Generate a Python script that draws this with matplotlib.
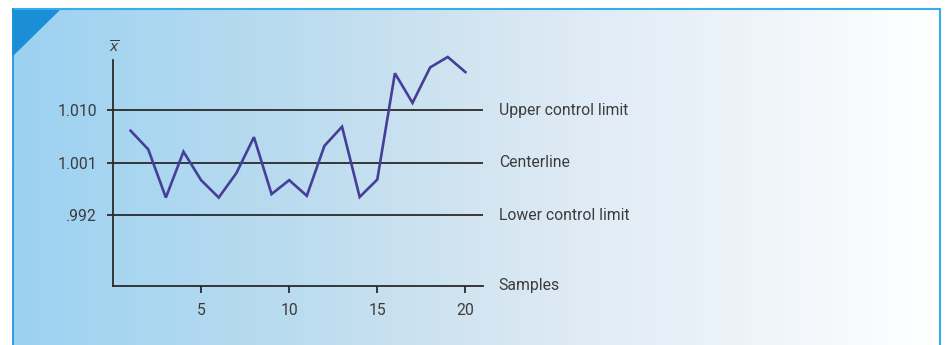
import numpy as np
import matplotlib
matplotlib.use("Agg")
import matplotlib.pyplot as plt
from matplotlib.colors import LinearSegmentedColormap
from matplotlib.patches import Polygon

# Datos del gráfico de control
samples = list(range(1, 21))
xbar = [1.0065, 1.0033, 0.9950, 1.0029, 0.9980, 0.9950, 0.9992, 1.0054, 0.9956, 0.9980,
        0.9953, 1.0039, 1.0072, 0.9951, 0.9981, 1.0164, 1.0113, 1.0174, 1.0192, 1.0166]
limit_values = [1.010, 1.001, 0.992]
limit_ticks = ["1.010", "1.001", ".992"]
limit_names = ["Upper control limit", "Centerline", "Lower control limit"]
x_ticks = [5, 10, 15, 20]

W, H = 946, 345
plt.rcParams["font.family"] = ["Roboto", "DejaVu Sans"]
text_col = "#3c3c3c"
line_col = "#2a2a2a"
fs = 11.3

fig = plt.figure(figsize=(W / 100, H / 100), dpi=100)
fig.patch.set_facecolor("white")

# Fondo con degradado
px0, px1, py0 = 13, 940, 9
bg = fig.add_axes([px0 / W, 0, (px1 - px0) / W, (H - py0) / H])
cmap = LinearSegmentedColormap.from_list(
    "bg", [(0.0, "#9dd1f1"), (0.1, "#a6d5f1"), (0.31, "#bcdcef"), (0.5, "#d3e5f1"),
           (0.63, "#e1ecf6"), (0.8, "#eef4f9"), (0.95, "#fbfdfe"), (1.0, "#ffffff")])
bg.imshow(np.linspace(0, 1, 400).reshape(1, -1), aspect="auto", cmap=cmap,
          extent=[0, 1, 0, 1])
bg.set_xlim(0, 1)
bg.set_ylim(0, 1)
bg.axis("off")

# Bordes y triángulo
fig.add_artist(plt.Line2D([px0 / W, px1 / W], [(H - py0) / H] * 2, color="#36aee9", lw=1.5))
fig.add_artist(plt.Line2D([px1 / W] * 2, [0, (H - py0) / H], color="#36aee9", lw=1.5))
fig.add_artist(plt.Line2D([px0 / W] * 2, [0, (H - py0) / H], color="#1a90d8", lw=1.2))
fig.add_artist(Polygon([[px0 / W, (H - py0) / H], [60 / W, (H - py0) / H], [px0 / W, (H - 55) / H]],
                       closed=True, color="#1a8fd8", transform=fig.transFigure))

# Eje principal
ax = fig.add_axes([113 / W, 59 / H, 370 / W, 246 / H])
ax.patch.set_alpha(0)
ax.set_xlim(0, 21)
ax.set_ylim(0.97978, 1.02212)
for s in ["top", "right"]:
    ax.spines[s].set_visible(False)
ax.spines["left"].set_bounds(0.97978, 1.01867)
for s in ["left", "bottom"]:
    ax.spines[s].set_color(line_col)
    ax.spines[s].set_linewidth(1.3)

ax.hlines(limit_values, 0, 21, color=line_col, lw=1.3)
ax.plot(samples, xbar, color="#453f98", lw=1.9, solid_joinstyle="miter", clip_on=False)

ax.set_yticks(limit_values)
ax.set_yticklabels(limit_ticks)
ax.set_xticks(x_ticks)
ax.tick_params(axis="y", length=4.5, width=1.3, color=line_col, pad=7,
               labelsize=fs, labelcolor=text_col)
ax.tick_params(axis="x", length=5, width=1.3, color=line_col, pad=7,
               labelsize=fs, labelcolor=text_col)

for v, name in zip(limit_values, limit_names):
    ax.text(21.9, v, name, ha="left", va="center", fontsize=fs,
            color=text_col, clip_on=False)
ax.text(21.9, 0.97995, "Samples", ha="left", va="center", fontsize=fs,
        color=text_col, clip_on=False)
ax.text(0.1, 1.0209, r"$\overline{x}$", ha="center", va="center", fontsize=10,
        color=text_col, clip_on=False)

fig.savefig("out.png", dpi=100)
